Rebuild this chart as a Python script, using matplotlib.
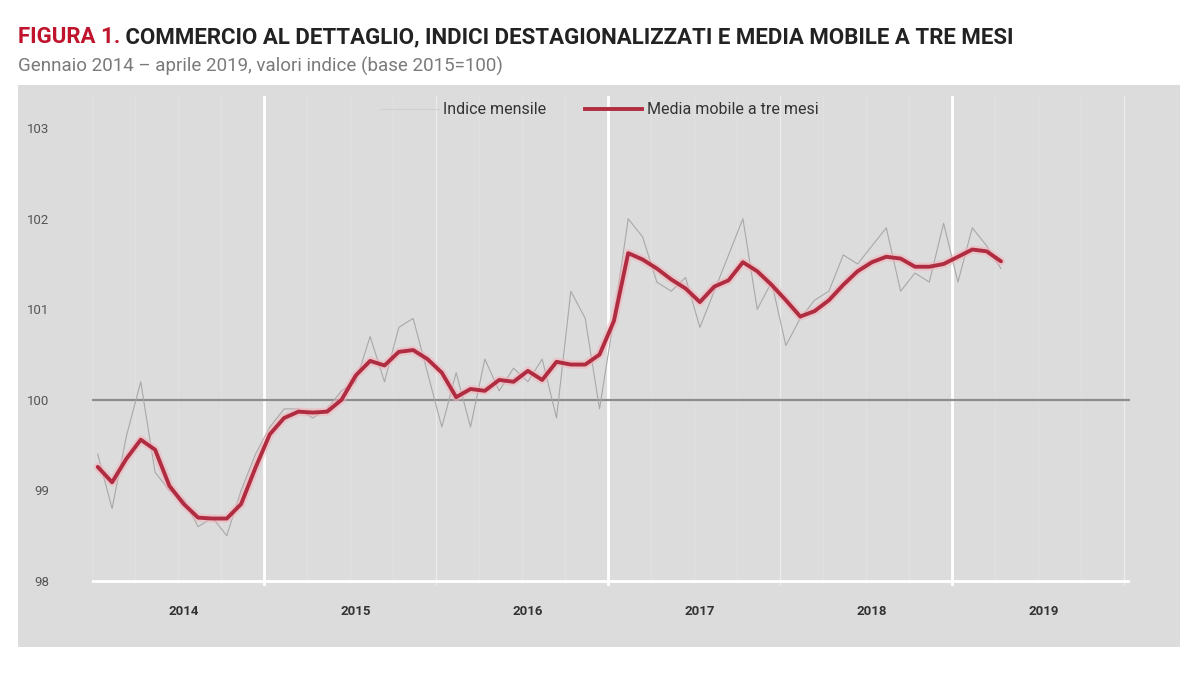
import matplotlib
matplotlib.use("Agg")
import matplotlib.pyplot as plt
from matplotlib.patches import Rectangle
from matplotlib.lines import Line2D
import numpy as np

# ---- data (Jan 2014 .. Apr 2019, monthly) ----
monthly_index = [
    99.4, 98.8, 99.6, 100.2, 99.2, 99.0, 98.9, 98.6, 98.7, 98.5, 99.0, 99.4,      # 2014
    99.7, 99.9, 99.9, 99.8, 99.9, 100.1, 100.2, 100.7, 100.2, 100.8, 100.9, 100.3,  # 2015
    99.7, 100.3, 99.7, 100.45, 100.1, 100.35, 100.2, 100.45, 99.8, 101.2, 100.9, 99.9,  # 2016
    100.9, 102.0, 101.8, 101.3, 101.2, 101.35, 100.8, 101.2, 101.6, 102.0, 101.0, 101.3,  # 2017
    100.6, 100.9, 101.1, 101.2, 101.6, 101.5, 101.7, 101.9, 101.2, 101.4, 101.3, 101.95,  # 2018
    101.3, 101.9, 101.7, 101.45,                                                    # 2019
]
moving_avg = [
    99.26, 99.09, 99.35, 99.56, 99.45, 99.05, 98.85, 98.70, 98.69, 98.69, 98.85, 99.25,
    99.62, 99.80, 99.87, 99.86, 99.87, 100.00, 100.27, 100.43, 100.38, 100.53, 100.55, 100.45,
    100.30, 100.03, 100.12, 100.10, 100.22, 100.20, 100.32, 100.22, 100.42, 100.39, 100.39, 100.50,
    100.87, 101.62, 101.55, 101.45, 101.33, 101.23, 101.08, 101.25, 101.32, 101.52, 101.42, 101.27,
    101.10, 100.92, 100.98, 101.10, 101.27, 101.42, 101.52, 101.58, 101.56, 101.47, 101.47, 101.50,
    101.58, 101.66, 101.64, 101.53,
]
years = ["2014", "2015", "2016", "2017", "2018", "2019"]
y_ticks = [98, 99, 100, 101, 102, 103]

title_red = "FIGURA 1."
title_rest = " COMMERCIO AL DETTAGLIO, INDICI DESTAGIONALIZZATI E MEDIA MOBILE A TRE MESI"
subtitle = "Gennaio 2014 \u2013 aprile 2019, valori indice (base 2015=100)"
legend_labels = ["Indice mensile", "Media mobile a tre mesi"]

# ---- figure ----
W, H = 1200, 683
fig = plt.figure(figsize=(W / 100, H / 100), dpi=100)
fig.patch.set_facecolor("white")
panel_color = "#dcdcdc"
fig.patches.append(Rectangle((18 / W, 1 - 647 / H), 1162 / W, 562 / H,
                             transform=fig.transFigure, facecolor=panel_color,
                             edgecolor="none", zorder=-5))

ax = fig.add_axes([92 / W, 1 - 586 / H, (1130 - 92) / W, (586 - 96) / H])
ax.set_zorder(2)
ax.set_facecolor(panel_color)
for s in ax.spines.values():
    s.set_visible(False)

x = np.arange(len(monthly_index))
ax.set_xlim(-0.4, 72)
ax.set_ylim(97.945, 103.355)

# grid lines
for m in range(0, 73, 3):
    ax.axvline(m - 0.4, color="#e3e3e3", lw=0.6, zorder=1)
for m in (24, 48, 72):
    ax.axvline(m - 0.4, color="#ebebeb", lw=1.0, zorder=1)
for m in (12, 36, 60):
    ax.axvline(m - 0.4, color="white", lw=2.0, zorder=1)
ax.axhline(98, color="white", lw=2.0, zorder=1)
ax.axhline(100, color="#8c8c8c", lw=1.6, zorder=2)

# series
ax.plot(x, monthly_index, color="#a8a8a8", lw=0.8, zorder=3)
ax.plot(x, moving_avg, color="#f2b3bb", lw=6, alpha=0.55, solid_capstyle="round", zorder=4)
ax.plot(x, moving_avg, color="#b02c40", lw=2.8, solid_capstyle="round", zorder=5)

# ticks
ax.set_yticks(y_ticks)
ax.set_yticklabels([str(v) for v in y_ticks], fontsize=9.5, color="#555555", family="Roboto")
ax.set_xticks([12 * i + 6 for i in range(len(years))])
ax.set_xticklabels(years, fontsize=9.5, color="#333333", family="Roboto", fontweight="bold")
ax.tick_params(axis="both", length=0)
ax.tick_params(axis="y", pad=31)
ax.tick_params(axis="x", pad=14)

# legend
handles = [Line2D([], [], color="#d0d0d0", lw=0.8),
           Line2D([], [], color="#b02c40", lw=2.8)]
leg = fig.legend(handles, legend_labels, loc="center", bbox_to_anchor=(0.5, 1 - 110 / H),
                 ncol=2, frameon=False, handlelength=3.6, columnspacing=2.4,
                 handletextpad=0.3, prop={"family": "Roboto", "size": 11.5})
leg.set_zorder(3)
for t in leg.get_texts():
    t.set_color("#333333")

# titles
t1 = fig.text(18 / W, 1 - 37 / H, title_red, fontsize=16, fontweight="bold",
              color="#c0142c", family="Roboto", va="center", ha="left")
fig.canvas.draw()
r = fig.canvas.get_renderer()
bb = t1.get_window_extent(renderer=r)
fig.text(bb.x1 / W, 1 - 37 / H, title_rest, fontsize=16, fontweight="bold",
         color="#222222", family="Roboto", va="center", ha="left")
fig.text(18 / W, 1 - 66 / H, subtitle, fontsize=13.5, color="#7a7a7a",
         family="Roboto", va="center", ha="left")

fig.savefig("out.png", dpi=100, facecolor="white")
